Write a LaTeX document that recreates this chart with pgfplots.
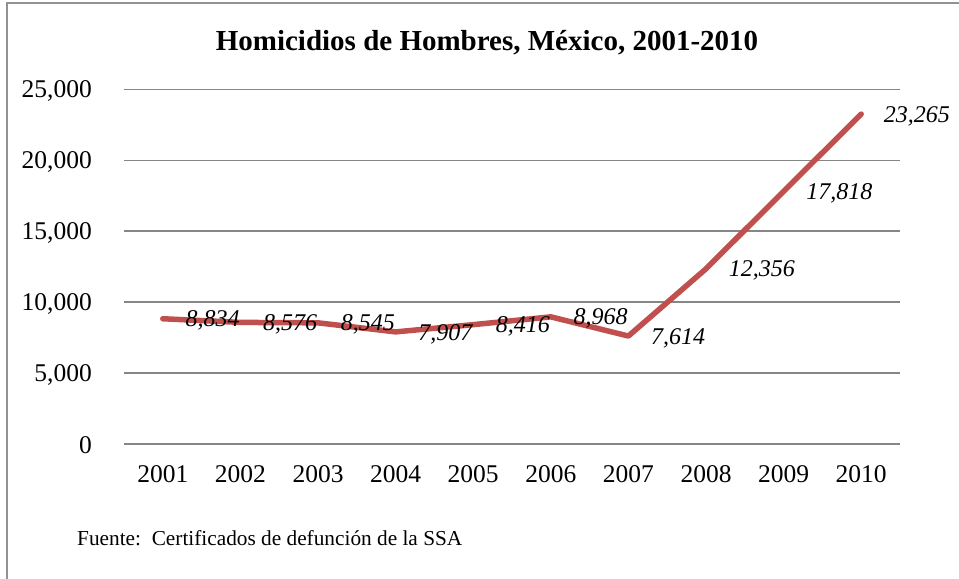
\documentclass[border=0pt]{standalone}
\usepackage{pgfplots}
\pgfplotsset{compat=1.18}
\usepackage{fontspec}
\setmainfont{Liberation Serif}
\definecolor{linered}{HTML}{C0504D}
\definecolor{gridgray}{HTML}{868686}
\begin{document}
\begin{tikzpicture}
\path[use as bounding box] (0,0) rectangle (959bp,-579bp);
\draw[gridgray!90, line width=2bp] (6.5bp,-579bp) -- (6.5bp,-3bp) -- (959bp,-3bp);
\node[anchor=base, font=\bfseries\fontsize{29bp}{34bp}\selectfont, inner sep=0pt] at (487bp,-50bp) {Homicidios de Hombres, México, 2001-2010};
\begin{axis}[
  at={(124bp,-444bp)}, anchor=south west,
  scale only axis, width=776bp, height=354.5bp,
  xmin=-0.5, xmax=9.5, ymin=0, ymax=25000,
  xtick={0,...,9},
  xticklabels={2001,2002,2003,2004,2005,2006,2007,2008,2009,2010},
  ytick={0,5000,10000,15000,20000,25000},
  ymajorgrids, grid style={gridgray, line width=1.8bp},
  axis line style={draw=none},
  major tick length=0pt,
  clip=false,
  /pgf/number format/assume math mode=true,
  yticklabel style={/pgf/number format/fixed, /pgf/number format/precision=0, /pgf/number format/1000 sep={,}},
  yticklabel style={inner sep=0pt, xshift=-32bp, yshift=-1.5bp, font=\fontsize{25.5bp}{30bp}\selectfont},
  xticklabel style={inner sep=0pt, yshift=-21bp, font=\fontsize{25.5bp}{30bp}\selectfont},
  scaled y ticks=false,
]
\addplot[linered, line width=5.5bp, line join=round, line cap=round,
  point meta=y,
  nodes near coords={\pgfmathprintnumber[fixed, precision=0, 1000 sep={,}, assume math mode=true]{\pgfplotspointmeta}},
  every node near coord/.append style={anchor=west, inner sep=0pt, xshift=20bp, yshift=-2bp, text=black, font=\itshape\fontsize{24bp}{28bp}\selectfont},
] coordinates {
  (0,8834) (1,8576) (2,8545) (3,7907) (4,8416)
  (5,8968) (6,7614) (7,12356) (8,17818) (9,23265)
};
\end{axis}
\node[anchor=base west, inner sep=0pt, font=\fontsize{21.3bp}{26bp}\selectfont] at (77bp,-545bp) {Fuente:\ \ Certificados de defunción de la SSA};
\end{tikzpicture}
\end{document}
